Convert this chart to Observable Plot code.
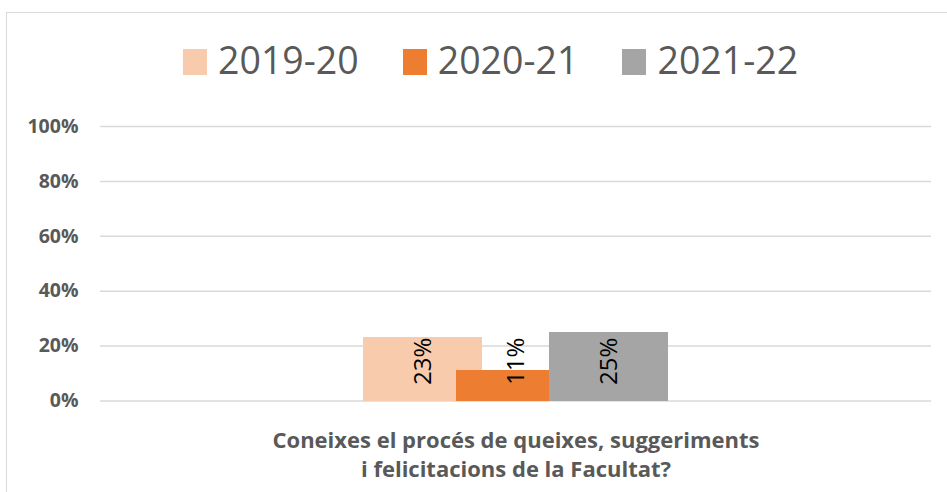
<!DOCTYPE html>
<html>
<head>
<meta charset="utf-8">
<script src="https://cdn.jsdelivr.net/npm/d3@7"></script>
<script src="https://cdn.jsdelivr.net/npm/@observablehq/plot@0.6"></script>
<style>
  html, body { margin: 0; padding: 0; background: #fff; }
  #wrap { position: relative; width: 947px; height: 492px; overflow: hidden; font-family: "Open Sans", sans-serif; }
  #frame { position: absolute; left: 6px; top: 12px; right: 0; bottom: 0; border-top: 1px solid #d9d9d9; border-left: 1px solid #d9d9d9; }
  #legend { position: absolute; left: 183px; top: 41px; display: flex; align-items: flex-start; color: #595959; font-size: 37.5px; line-height: 37px; }
  #legend .item { display: flex; align-items: flex-start; margin-right: 44px; }
  #legend .sw { width: 24px; height: 26px; margin-top: 8px; margin-right: 11px; }
  #chart { position: absolute; left: 0; top: 100px; }
</style>
</head>
<body>
<div id="wrap">
  <div id="frame"></div>
  <div id="legend"></div>
  <div id="chart"></div>
</div>
<script>
const categories = ["Coneixes el procés de queixes, suggeriments\ni felicitacions de la Facultat?"];
const series = ["2019-20", "2020-21", "2021-22"];
const values = [23, 11, 25];
const colors = ["#F8CBAD", "#ED7D31", "#A5A5A5"];
const yTicks = [0, 20, 40, 60, 80, 100];

const data = series.map((s, i) => ({series: s, i, value: values[i], color: colors[i]}));

// legend
const legend = document.getElementById("legend");
series.forEach((s, i) => {
  const item = document.createElement("div");
  item.className = "item";
  const sw = document.createElement("span");
  sw.className = "sw";
  sw.style.background = colors[i];
  const t = document.createElement("span");
  t.textContent = s;
  item.appendChild(sw);
  item.appendChild(t);
  legend.appendChild(item);
});

const half = 0.64;
const chart = Plot.plot({
  width: 947,
  height: 392,
  marginLeft: 100,
  marginRight: 16,
  marginTop: 26,
  marginBottom: 91.5,
  style: {fontFamily: "Open Sans", fontSize: "19.5px", fontWeight: 700, color: "#595959", background: "transparent", overflow: "visible"},
  x: {domain: [-3.468, 5.468], axis: null},
  y: {domain: [0, 100], ticks: yTicks, tickFormat: d => d + "%", tickSize: 0, tickPadding: 22, label: null},
  marks: [
    Plot.ruleY(yTicks, {stroke: "#d9d9d9", strokeWidth: 1.5}),
    Plot.rect(data, {x1: d => d.i - half, x2: d => d.i + half, y1: 0, y2: "value", fill: "color", shapeRendering: "crispEdges"}),
    Plot.text(data, {x: "i", y: 0, text: d => d.value + "%", rotate: -90, textAnchor: "start", lineAnchor: "middle", dy: -16, fill: "#000", fontSize: 24, fontWeight: 400}),
    Plot.text(categories, {x: 1, frameAnchor: "bottom", text: d => d, lineAnchor: "top", dy: 27, lineHeight: 1.3, fill: "#595959", fontSize: 22, fontWeight: 700, textAnchor: "middle"})
  ]
});
document.getElementById("chart").appendChild(chart);
</script>
</body>
</html>
